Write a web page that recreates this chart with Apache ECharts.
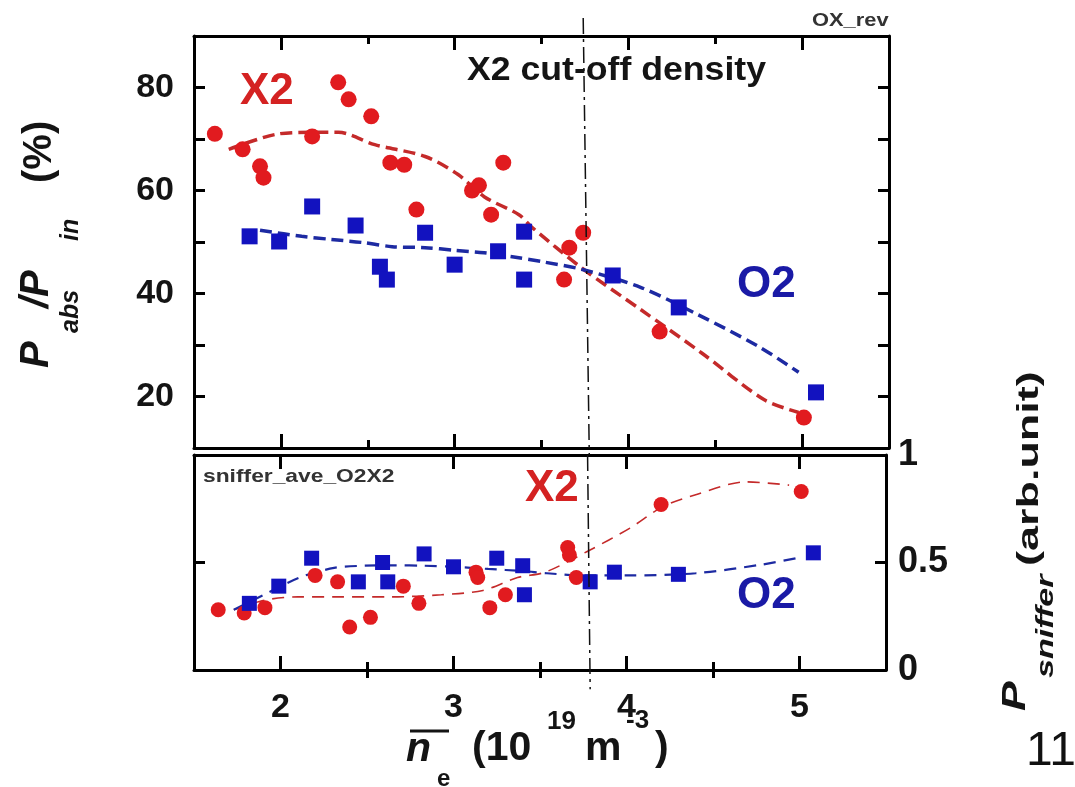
<!DOCTYPE html>
<html>
<head>
<meta charset="utf-8">
<script src="https://cdn.jsdelivr.net/npm/echarts@6/dist/echarts.min.js"></script>
<style>
  html, body { margin: 0; padding: 0; background: #ffffff; }
  #chart { width: 1075px; height: 787px; }
</style>
</head>
<body>
<div id="chart"></div>
<script>
// ---- Absorbed power fraction P_abs/P_in (%) vs line-averaged density (10^19 m^-3) ----
const absX2 = [[1.62,71.0],[1.78,68.0],[1.88,64.7],[1.90,62.5],[2.18,70.5],[2.33,81.0],[2.39,77.7],[2.52,74.4],
               [2.63,65.4],[2.71,65.0],[2.78,56.3],[3.10,60.0],[3.14,61.0],[3.21,55.3],[3.28,65.4],[3.63,42.7],
               [3.66,48.9],[3.74,51.8],[4.18,32.6],[5.01,15.9]];
const absO2 = [[1.82,51.1],[1.99,50.1],[2.18,56.9],[2.43,53.2],[2.57,45.2],[2.61,42.7],[2.83,51.8],[3.00,45.6],
               [3.25,48.2],[3.40,52.0],[3.40,42.7],[3.91,43.5],[4.29,37.3],[5.08,20.8]];
// fitted trend curves
const absX2Fit = [[1.70,68.0],[1.97,70.9],[2.18,71.3],[2.33,71.3],[2.54,68.9],[2.83,66.6],[3.02,63.1],[3.17,58.8],
                  [3.37,55.3],[3.44,53.0],[3.73,45.0],[4.07,36.9],[4.42,28.5],[4.78,19.4],[4.98,16.9]];
const absO2Fit = [[1.88,52.3],[2.12,51.1],[2.29,50.5],[2.47,49.9],[2.64,49.1],[2.83,48.9],[3.00,48.4],[3.17,47.9],
                  [3.36,47.0],[3.50,46.2],[3.73,44.7],[4.07,41.2],[4.40,35.9],[4.75,29.7],[4.98,24.7]];

// ---- Sniffer probe signal (arb. unit) ----
const sniffX2 = [[1.64,0.28],[1.79,0.265],[1.91,0.29],[2.20,0.44],[2.33,0.41],[2.40,0.20],[2.52,0.245],[2.71,0.39],
                 [2.80,0.31],[3.13,0.455],[3.14,0.43],[3.21,0.29],[3.30,0.35],[3.66,0.57],[3.67,0.535],[3.71,0.43],
                 [4.20,0.77],[5.01,0.83]];
const sniffO2 = [[1.82,0.31],[1.99,0.39],[2.18,0.52],[2.45,0.41],[2.59,0.50],[2.62,0.41],[2.83,0.54],[3.00,0.48],
                 [3.25,0.52],[3.40,0.485],[3.41,0.35],[3.79,0.41],[3.93,0.455],[4.30,0.445],[5.08,0.545]];
const sniffX2Fit = [[1.73,0.28],[1.91,0.325],[2.10,0.34],[2.35,0.34],[2.64,0.34],[2.93,0.35],[3.17,0.37],[3.37,0.43],
                    [3.53,0.455],[3.77,0.55],[4.02,0.66],[4.21,0.76],[4.40,0.815],[4.69,0.875],[4.94,0.86]];
const sniffO2Fit = [[1.73,0.28],[1.93,0.36],[2.11,0.43],[2.31,0.475],[2.48,0.485],[2.66,0.487],[2.83,0.485],[3.00,0.48],
                    [3.20,0.47],[3.40,0.46],[3.54,0.45],[3.75,0.44],[4.02,0.44],[4.40,0.45],[4.78,0.49],[4.98,0.52]];

// X2 cut-off density marker (dash-dot line crossing both panels)
const cutoffTop = [[3.74,93.5],[3.775,8.6]];
const cutoffBottom = [[3.775,1.0],[3.79,-0.09]];

// axis ticks
const xMajor = [2, 3, 4, 5];
const xMinor = [2.5, 3.5, 4.5];
const yAbsTicks = [20, 30, 40, 50, 60, 70, 80];
const yAbsLabels = [20, 40, 60, 80];
const ySniffTicks = [0.5];
const ySniffLabels = [0, 0.5, 1];

const RED = '#e11b1f';
const BLUE = '#1212bf';
const RED_FIT = '#c42a2a';
const BLUE_FIT = '#1d2aa2';
const FONT = "'Liberation Sans', Arial, sans-serif";

const tickLabel = { fontFamily: FONT, fontWeight: 'bold', fontSize: 34, color: '#141414' };
const frame = { show: true, onZero: false, lineStyle: { color: '#000', width: 3 } };

function xAxisDef(grid, pos, ticks, len, withLine, labels) {
  return {
    type: 'value', gridIndex: grid, position: pos, min: 1.5, max: 5.5,
    axisLine: withLine ? frame : { show: false },
    axisTick: { show: true, inside: true, length: len, customValues: ticks,
                lineStyle: { color: '#000', width: 3 } },
    axisLabel: labels ? Object.assign({ show: true, margin: 21, customValues: labels }, tickLabel) : { show: false },
    splitLine: { show: false }
  };
}
function yAxisDef(grid, pos, min, max, ticks, labels, margin, extra) {
  return {
    type: 'value', gridIndex: grid, position: pos, min: min, max: max,
    axisLine: frame,
    axisTick: { show: true, inside: true, length: 11, customValues: ticks,
                lineStyle: { color: '#000', width: 3 } },
    axisLabel: labels ? Object.assign({ show: true, margin: margin, customValues: labels,
                                        formatter: v => String(v) }, tickLabel, extra || {}) : { show: false },
    splitLine: { show: false }
  };
}

function fit(data, xi, yi, color, width, dash) {
  return { type: 'line', xAxisIndex: xi, yAxisIndex: yi, data: data, smooth: 0.3, symbol: 'none',
           lineStyle: { color: color, width: width, type: dash }, z: 2, silent: true };
}
function dots(data, xi, yi, shape, color, size) {
  return { type: 'scatter', xAxisIndex: xi, yAxisIndex: yi, data: data, symbol: shape, symbolSize: size,
           itemStyle: { color: color, opacity: 1 }, z: 3 };
}

// plain text helper: x = left edge, y = vertical centre
function txt(text, x, y, size, opts) {
  opts = opts || {};
  const font = (opts.italic ? 'italic ' : '') + (opts.normal ? '' : 'bold ') + size + 'px ' + FONT;
  return {
    type: 'text', x: x, y: y, rotation: opts.rot || 0, scaleX: opts.sx || 1, scaleY: 1, z: 100,
    style: { text: text, font: font, fill: opts.color || '#141414',
             align: 'left', textAlign: 'left', verticalAlign: 'middle', textVerticalAlign: 'middle' }
  };
}
const UP = Math.PI / 2;

const option = {
  animation: false,
  backgroundColor: '#ffffff',
  grid: [
    { left: 194, top: 36, width: 695, height: 412 },
    { left: 194, top: 455, width: 692, height: 215 }
  ],
  xAxis: [
    xAxisDef(0, 'bottom', xMajor, 14, true, null),
    xAxisDef(0, 'bottom', xMinor, 8, false, null),
    xAxisDef(0, 'top', xMajor, 14, true, null),
    xAxisDef(0, 'top', xMinor, 8, false, null),
    xAxisDef(1, 'bottom', xMajor, 14, true, xMajor),
    xAxisDef(1, 'bottom', xMinor, 8, false, null),
    xAxisDef(1, 'top', xMajor, 14, true, null),
    xAxisDef(1, 'top', xMinor, 8, false, null)
  ],
  yAxis: [
    yAxisDef(0, 'left', 10, 90, yAbsTicks, yAbsLabels, 20),
    yAxisDef(0, 'right', 10, 90, yAbsTicks, null, 0),
    yAxisDef(1, 'left', 0, 1, ySniffTicks, null, 0),
    yAxisDef(1, 'right', 0, 1, ySniffTicks, ySniffLabels, 12, { fontSize: 36, padding: [0, 0, 10, 0] })
  ],
  series: [
    fit(absX2Fit, 0, 0, RED_FIT, 3.5, [12, 6]),
    fit(absO2Fit, 0, 0, BLUE_FIT, 3.5, [12, 6]),
    dots(absX2, 0, 0, 'circle', RED, 16),
    dots(absO2, 0, 0, 'rect', BLUE, 16),
    fit(sniffX2Fit, 4, 2, RED_FIT, 1.6, [12, 8]),
    fit(sniffO2Fit, 4, 2, BLUE_FIT, 2.2, [12, 8]),
    dots(sniffX2, 4, 2, 'circle', RED, 15),
    dots(sniffO2, 4, 2, 'rect', BLUE, 15),
    { type: 'line', xAxisIndex: 0, yAxisIndex: 0, data: cutoffTop, symbol: 'none', clip: false, z: 4,
      lineStyle: { color: '#111', width: 1.5, type: [16, 5, 3, 5] }, silent: true },
    { type: 'line', xAxisIndex: 4, yAxisIndex: 2, data: cutoffBottom, symbol: 'none', clip: false, z: 4,
      lineStyle: { color: '#111', width: 1.5, type: [16, 5, 3, 5] }, silent: true }
  ],
  graphic: [
    // panel annotations
    txt('X2', 240, 92, 44, { color: '#d42222' }),
    txt('X2 cut-off density', 467, 71, 33, { sx: 1.08 }),
    txt('OX_rev', 812, 21, 19, { color: '#333', sx: 1.15 }),
    txt('O2', 737, 285, 44, { color: '#1a1aa6' }),
    txt('sniffer_ave_O2X2', 203, 477, 19, { color: '#333', sx: 1.2 }),
    txt('X2', 525, 489, 44, { color: '#d42222' }),
    txt('O2', 737, 596, 44, { color: '#1a1aa6' }),
    txt('11', 1026, 752, 48, { normal: true, color: '#111' }),

    // x-axis title: n̄_e (10^19 m^-3)
    txt('n', 406, 750, 41, { italic: true }),
    { type: 'line', z: 100, shape: { x1: 410, y1: 731, x2: 449, y2: 731 },
      style: { stroke: '#141414', lineWidth: 3 } },
    txt('e', 437, 779, 24),
    txt('(10', 472, 749, 41),
    txt('19', 547, 722, 26),
    txt('m', 585, 749, 41),
    txt('-3', 626, 721, 26),
    txt(')', 655, 749, 41),

    // left y-axis title: P_abs / P_in (%)
    txt('P', 37, 368, 40, { italic: true, rot: UP }),
    txt('abs', 71, 333, 25, { italic: true, rot: UP }),
    txt('/P', 37, 308, 40, { italic: true, rot: UP }),
    txt('in', 71, 241, 25, { italic: true, rot: UP }),
    txt('(%)', 40, 183, 40, { rot: UP }),

    // right y-axis title: P_sniffer (arb.unit)
    txt('P', 1016, 711, 33, { italic: true, rot: UP, sx: 1.35 }),
    txt('sniffer', 1046, 678, 24, { italic: true, rot: UP, sx: 1.42 }),
    txt('(arb.unit)', 1030, 566, 29, { rot: UP, sx: 1.55 })
  ]
};

const chart = echarts.init(document.getElementById('chart'), null, { renderer: 'canvas' });
chart.setOption(option);
</script>
</body>
</html>
